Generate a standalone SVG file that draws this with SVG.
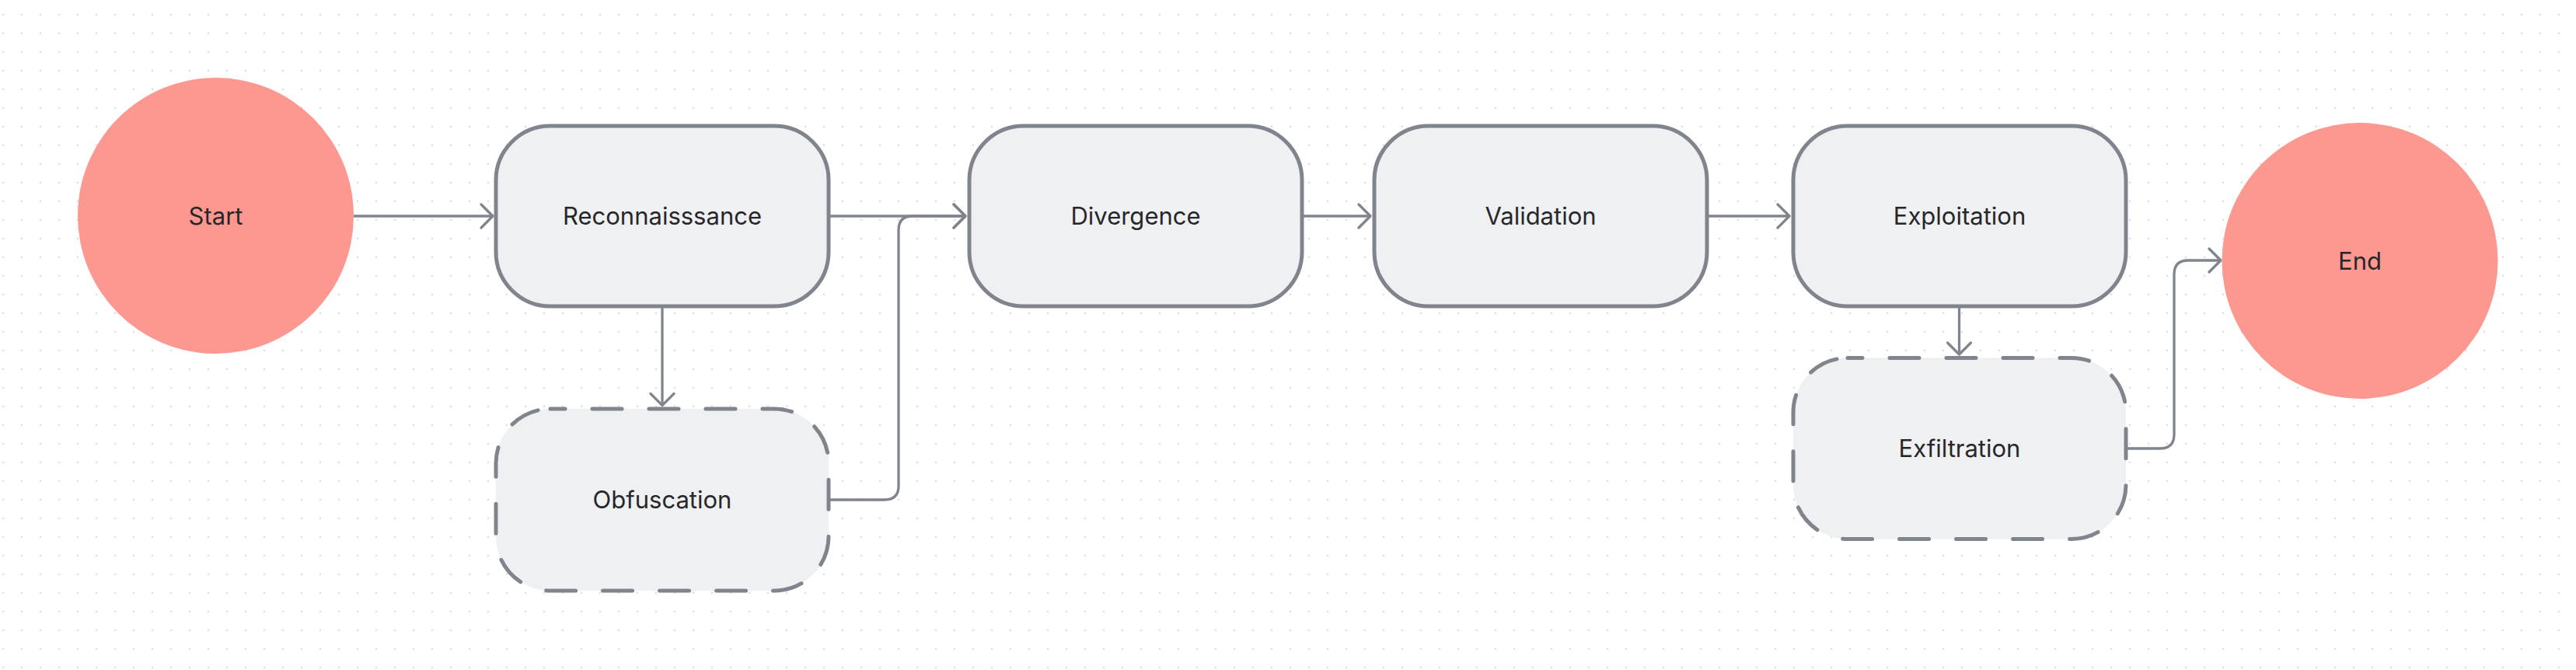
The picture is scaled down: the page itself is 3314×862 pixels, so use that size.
<svg xmlns="http://www.w3.org/2000/svg" width="3314" height="862" viewBox="0 0 3314 862">
  <style>
    .bg { fill: #ffffff; }
    .term { fill: #fc988f; }
    .box { fill: #eff0f2; stroke: #80858d; stroke-width: 5; }
    .dashed { stroke-dasharray: 38 35; stroke-dashoffset: 19; stroke-linecap: round; }
    .label { font-family: Inter, "Noto Sans", "Liberation Sans", sans-serif; font-size: 31px; fill: #27272b; text-anchor: middle; }
    .edge { fill: none; stroke: #80858d; stroke-width: 3.3; }
  </style>
  <defs>
    <pattern id="dots" x="0" y="0" width="24" height="24" patternUnits="userSpaceOnUse">
      <circle cx="4" cy="18.7" r="1.3" fill="#dcdce5"/>
    </pattern>
    <marker id="arrow" markerUnits="userSpaceOnUse" viewBox="-20 -20 24 40" refX="0" refY="0" markerWidth="24" markerHeight="40" orient="auto" overflow="visible">
      <path d="M-15,-15 L0,0 L-15,15" fill="none" stroke="#80858d" stroke-width="3.3" stroke-linecap="round" stroke-linejoin="round"/>
    </marker>
  </defs>
  <rect class="bg" x="0" y="0" width="3314" height="862"/>
  <rect x="0" y="0" width="3314" height="862" fill="url(#dots)"/>

  <g id="connectors">
    <path class="edge" d="M455,278 L634,278" marker-end="url(#arrow)"/>
    <path class="edge" d="M1068,278 L1242,278" marker-end="url(#arrow)"/>
    <path class="edge" d="M852,396 L852,521.5" marker-end="url(#arrow)"/>
    <path class="edge" d="M1068,643 L1138,643 Q1156,643 1156,625 L1156,296 Q1156,278 1174,278 L1242,278" marker-end="url(#arrow)"/>
    <path class="edge" d="M1677,278 L1763,278" marker-end="url(#arrow)"/>
    <path class="edge" d="M2198,278 L2302,278" marker-end="url(#arrow)"/>
    <path class="edge" d="M2520.5,396 L2520.5,456" marker-end="url(#arrow)"/>
    <path class="edge" d="M2737,577 L2779,577 Q2797,577 2797,559 L2797,353 Q2797,335 2815,335 L2857,335" marker-end="url(#arrow)"/>
  </g>

  <g id="start">
    <circle class="term" cx="277.5" cy="277.5" r="177.5"/>
    <text class="label" x="277.5" y="289">Start</text>
  </g>
  <g id="reconnaissance">
    <rect class="box" x="638" y="162" width="428" height="232" rx="70" ry="70"/>
    <text class="label" x="852" y="289">Reconnaisssance</text>
  </g>
  <g id="obfuscation">
    <rect class="box dashed" x="638" y="526" width="428" height="234" rx="70" ry="70"/>
    <text class="label" x="852" y="654">Obfuscation</text>
  </g>
  <g id="divergence">
    <rect class="box" x="1247" y="162" width="428" height="232" rx="70" ry="70"/>
    <text class="label" x="1461" y="289">Divergence</text>
  </g>
  <g id="validation">
    <rect class="box" x="1768" y="162" width="428" height="232" rx="70" ry="70"/>
    <text class="label" x="1982" y="289">Validation</text>
  </g>
  <g id="exploitation">
    <rect class="box" x="2307" y="162" width="428" height="232" rx="70" ry="70"/>
    <text class="label" x="2521" y="289">Exploitation</text>
  </g>
  <g id="exfiltration">
    <rect class="box dashed" x="2307" y="460.5" width="428" height="233" rx="70" ry="70"/>
    <text class="label" x="2521" y="588">Exfiltration</text>
  </g>
  <g id="end">
    <circle class="term" cx="3036" cy="335.5" r="177.5"/>
    <text class="label" x="3036" y="346.5">End</text>
  </g>
</svg>
